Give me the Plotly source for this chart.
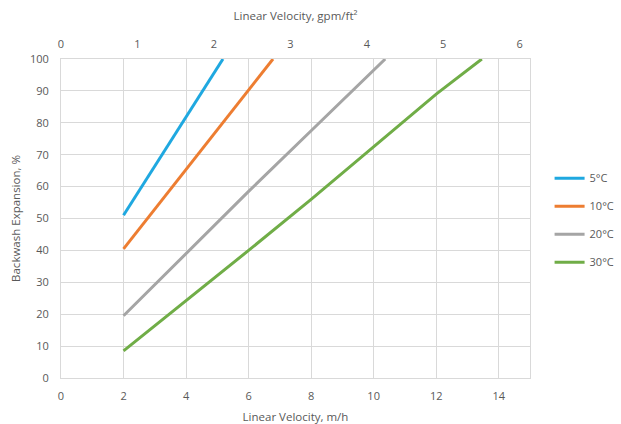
import plotly.graph_objects as go

# Data
x_5c = [2, 4, 5.18]
y_5c = [51, 82, 100]
x_10c = [2, 4, 6, 6.78]
y_10c = [40.5, 65.5, 90.5, 100]
x_20c = [2, 4, 6, 8, 10, 10.37]
y_20c = [19.5, 39, 58.5, 77.5, 96.5, 100]
x_30c = [2, 4, 6, 8, 10, 12, 13.46]
y_30c = [8.5, 24.2, 40, 56, 72.5, 89, 100]

series_names = ["5°C", "10°C", "20°C", "30°C"]
series_x = [x_5c, x_10c, x_20c, x_30c]
series_y = [y_5c, y_10c, y_20c, y_30c]
colors = ["#1FA8E0", "#ED7D31", "#A5A5A5", "#70AD47"]

MH_PER_GPMFT2 = 2.445
x_max = 15
bottom_ticks = [0, 2, 4, 6, 8, 10, 12, 14]
top_ticks = [0, 1, 2, 3, 4, 5, 6]
y_ticks = [0, 10, 20, 30, 40, 50, 60, 70, 80, 90, 100]

font_family = "Open Sans, Noto Sans, sans-serif"
text_color = "#595959"
grid_color = "#D9D9D9"

fig = go.Figure()
for i, (name, xs, ys, c) in enumerate(zip(series_names, series_x, series_y, colors)):
    fig.add_trace(go.Scatter(x=xs, y=ys, mode="lines", name=name,
                             line=dict(color=c, width=3), legendgroup=name))

# invisible trace to anchor the top axis
fig.add_trace(go.Scatter(x=[0, x_max / MH_PER_GPMFT2], y=[0, 0], xaxis="x2",
                         mode="lines", line=dict(width=0), showlegend=False,
                         hoverinfo="skip", opacity=0))

fig.update_layout(
    width=621, height=424,
    margin=dict(l=61, r=91, t=59, b=46, autoexpand=False),
    paper_bgcolor="white", plot_bgcolor="white",
    font=dict(family=font_family, size=11, color=text_color),
    xaxis=dict(range=[0, x_max], tickvals=bottom_ticks, showgrid=True,
               gridcolor=grid_color, gridwidth=1, zeroline=False,
               showline=True, linecolor=grid_color, mirror=True,
               ticks="", ticklabelstandoff=8, automargin=False,
               title=dict(text="Linear Velocity, m/h", standoff=10,
                          font=dict(size=11.5))),
    xaxis2=dict(range=[0, x_max / MH_PER_GPMFT2], tickvals=top_ticks,
                overlaying="x", side="top", showgrid=False, zeroline=False,
                ticks="", ticklabelstandoff=8, automargin=False,
                title=dict(text="Linear Velocity, gpm/ft²", standoff=12,
                           font=dict(size=11.5))),
    yaxis=dict(range=[0, 100], tickvals=y_ticks, showgrid=True,
               gridcolor=grid_color, gridwidth=1, zeroline=False,
               showline=True, linecolor=grid_color, mirror=True,
               ticks="", ticklabelstandoff=9, automargin=False,
               title=dict(text="Backwash Expansion, %", standoff=6,
                          font=dict(size=11.5))),
    legend=dict(xref="container", yref="container", x=0.885, y=0.614,
                xanchor="left", yanchor="top",
                traceorder="grouped", tracegroupgap=9, itemwidth=30,
                font=dict(size=11, color=text_color), bgcolor="rgba(0,0,0,0)"),
    showlegend=True,
)

post = ("document.body.style.margin='0';document.body.style.padding='0';"
        "document.body.style.overflow='hidden';"
        "Plotly.relayout('{plot_id}', {width: 621, height: 424});")

fig.write_html("out.html", config={"responsive": False, "displayModeBar": False},
               post_script=post)
